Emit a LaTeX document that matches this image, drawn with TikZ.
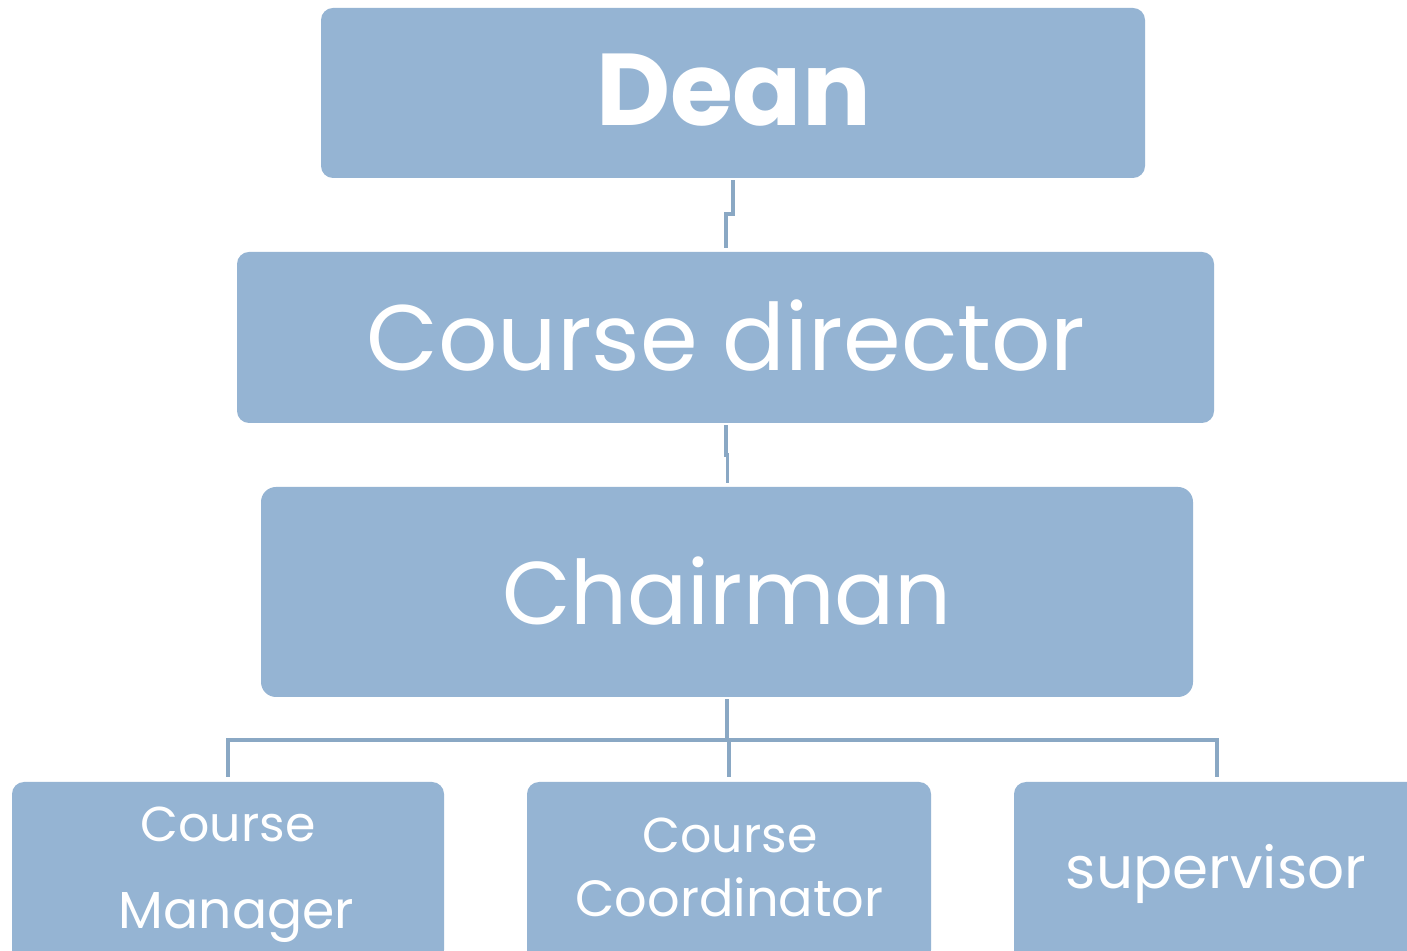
\documentclass[tikz,border=0pt]{standalone}
\usepackage{fontspec}
\setmainfont{Poppins}
\definecolor{boxfill}{HTML}{95B4D3}
\definecolor{linec}{HTML}{8AA8C4}
\begin{document}
\begin{tikzpicture}[x=1pt,y=1pt,
  box/.style={draw=none,fill=boxfill,rounded corners=12pt,inner sep=0pt},
  lbl/.style={text=white,inner sep=0pt,anchor=base},
  conn/.style={draw=linec,line width=3.2pt}]
\clip (0,0) rectangle (1407,950);
\fill[white] (0,0) rectangle (1407,950);
\node[box,minimum width=824pt,minimum height=170pt] (dean) at (733,857) {};
\node[box,minimum width=977pt,minimum height=171pt] (director) at (725.5,612.5) {};
\node[box,minimum width=932pt,minimum height=210pt,rounded corners=15pt] (chair) at (727,358) {};
\node[box,minimum width=432pt,minimum height=180pt] (manager) at (228,78) {};
\node[box,minimum width=404pt,minimum height=180pt] (coord) at (729,78) {};
\node[box,minimum width=406pt,minimum height=180pt] (super) at (1217,78) {};
\node[lbl,font=\fontsize{102}{102}\selectfont\bfseries] (dt) at (733.5,824) {Dean};
\node[lbl,font=\fontsize{93}{93}\selectfont] (drt) at (726,579) {Course director};
\node[lbl,font=\fontsize{89}{89}\selectfont] (cht) at (727,325) {Chairman};
\node[lbl,font=\fontsize{49}{49}\selectfont] (mt1) at (228,108) {Course};
\node[lbl,font=\fontsize{52}{52}\selectfont] (mt2) at (236.5,22) {Manager};
\node[lbl,font=\fontsize{49}{49}\selectfont] (ct1) at (730,97) {Course};
\node[lbl,font=\fontsize{51}{51}\selectfont] (ct2) at (729.5,34) {Coordinator};
\node[lbl,font=\fontsize{58}{58}\selectfont] (st) at (1216,62) {supervisor};
\coordinate (j1) at (733,736);
\coordinate (j2) at (726,736);
\coordinate (j3) at (726,495);
\coordinate (j4) at (727.5,495);
\coordinate (hub) at (727,210);
\coordinate (hl) at (228,210);
\coordinate (hm) at (729,210);
\coordinate (hr) at (1217,210);
\draw[conn] ([yshift=-2pt]dean.south) -- (j1) -- (j2) -- ([xshift=0.5pt,yshift=4pt]director.north);
\draw[conn] ([xshift=0.5pt,yshift=-2pt]director.south) -- (j3) -- (j4) -- ([xshift=0.5pt,yshift=4pt]chair.north);
\draw[conn] ([yshift=-2pt]chair.south) -- (hub);
\draw[conn] ([yshift=5pt]manager.north) -- (hl) -- (hr) -- ([yshift=5pt]super.north);
\draw[conn] (hm) -- ([yshift=5pt]coord.north);
\end{tikzpicture}
\end{document}
